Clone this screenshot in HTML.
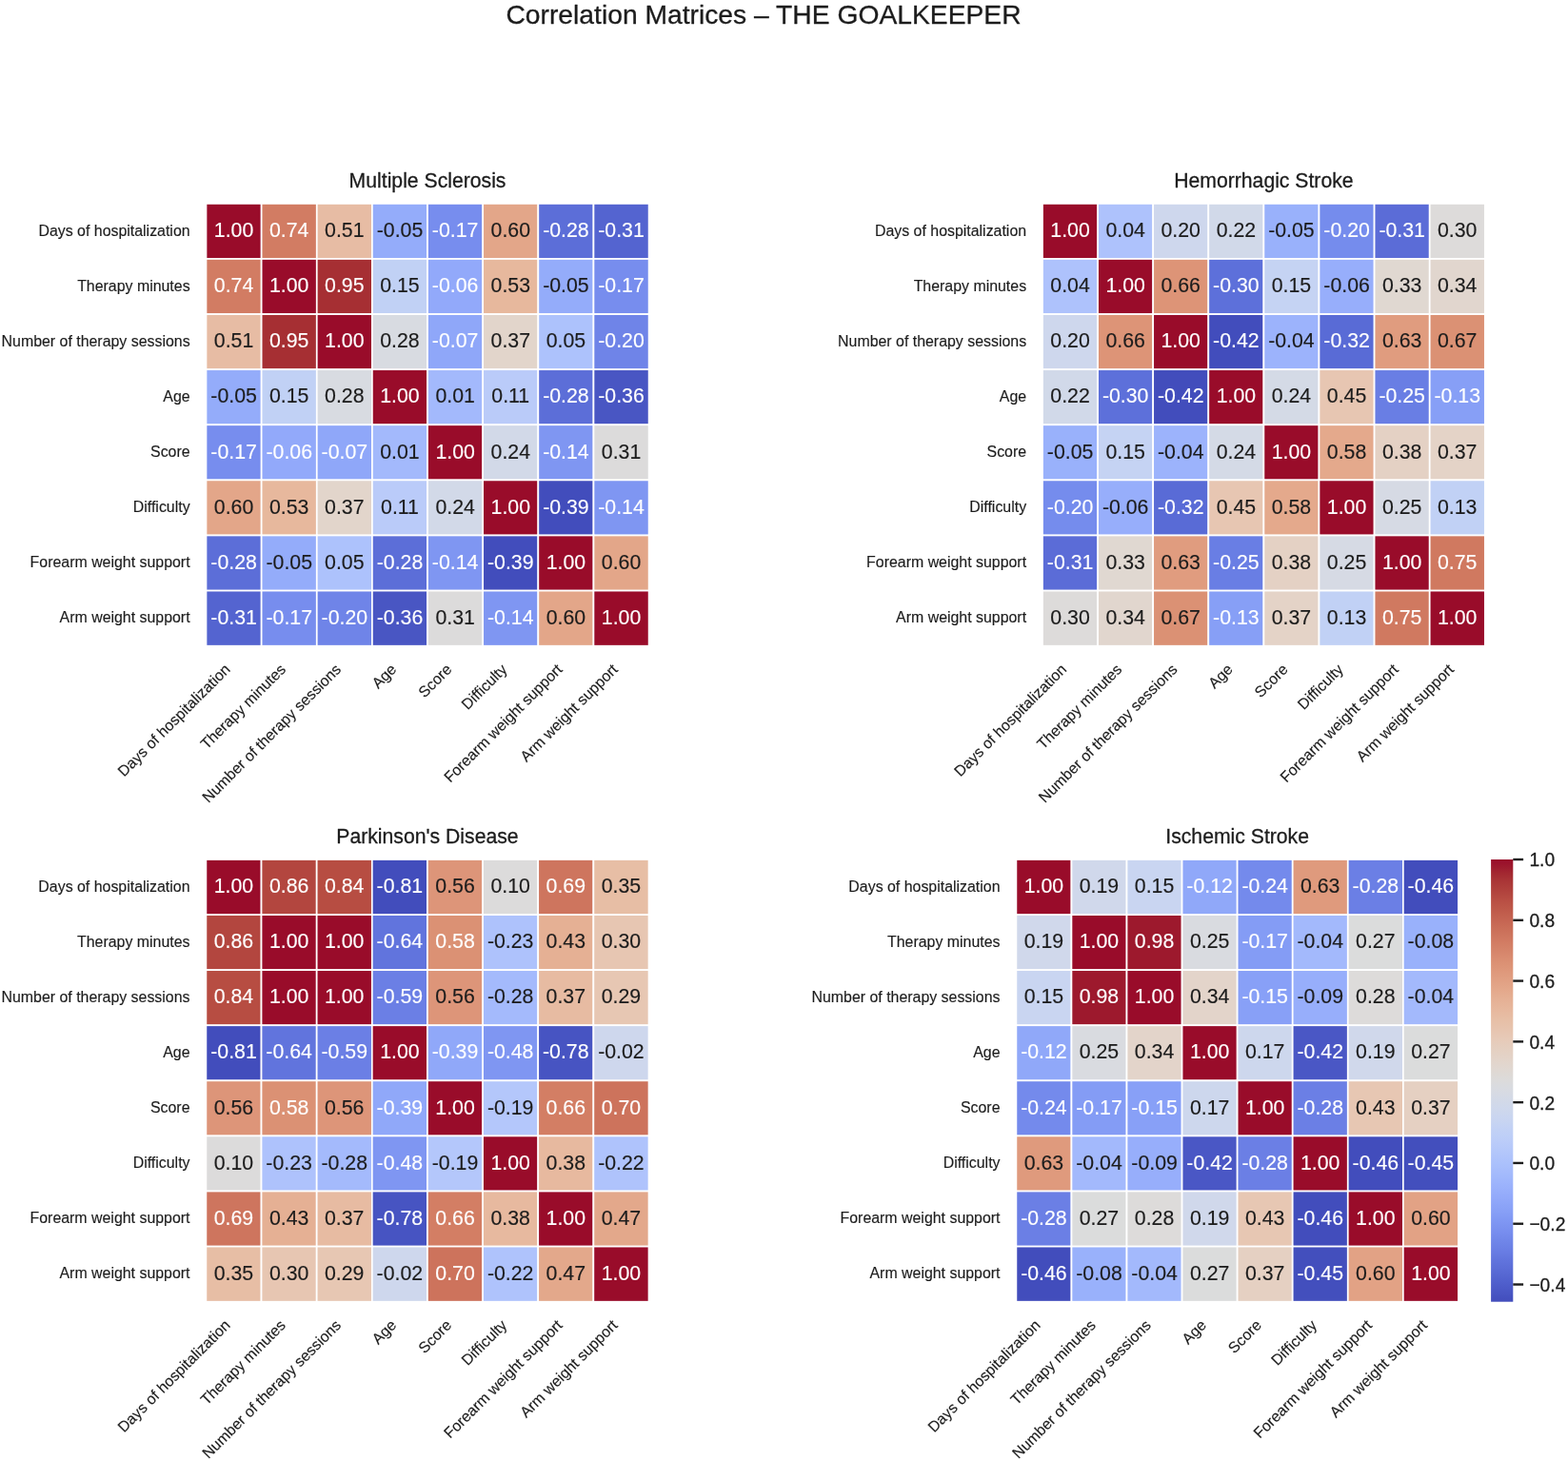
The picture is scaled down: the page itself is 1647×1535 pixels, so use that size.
<!DOCTYPE html>
<html lang="en"><head><meta charset="utf-8"><title>Correlation Matrices – THE GOALKEEPER</title>
<style>html,body{margin:0;padding:0;background:#fff}body{width:1647px;height:1535px;overflow:hidden}svg{display:block}text{font-family:"Liberation Sans",sans-serif;stroke-width:0.30px;stroke-linejoin:round}.w{stroke:#fff;stroke-width:0.12px}.an.d,.tk{stroke-width:0.15px}.d,.tk,.ti,.su,.cbt{stroke:#1c1c1c}.an{font-size:21.30px;text-anchor:middle}.tk{font-size:15.92px;fill:#1c1c1c}.yt{text-anchor:end}.xt{text-anchor:end}.ti{font-size:21.20px;text-anchor:middle;fill:#1c1c1c}.su{font-size:28.25px;text-anchor:middle;fill:#1c1c1c}.w{fill:#fff}.d{fill:#1c1c1c}</style>
</head><body>
<svg width="1647" height="1535" viewBox="0 0 1647 1535">
<rect width="1647" height="1535" fill="#fff"/>
<text class="su" x="802.00" y="24.60">Correlation Matrices – THE GOALKEEPER</text>
<g>
<text class="ti" x="449.05" y="196.70">Multiple Sclerosis</text>
<g stroke="#fff" stroke-width="1.70">
<rect x="216.50" y="213.90" width="58.14" height="58.10" fill="#990c2a"/>
<rect x="274.64" y="213.90" width="58.14" height="58.10" fill="#d27c63"/>
<rect x="332.77" y="213.90" width="58.14" height="58.10" fill="#e7bca4"/>
<rect x="390.91" y="213.90" width="58.14" height="58.10" fill="#94acfa"/>
<rect x="449.05" y="213.90" width="58.14" height="58.10" fill="#778dee"/>
<rect x="507.19" y="213.90" width="58.14" height="58.10" fill="#e3a689"/>
<rect x="565.33" y="213.90" width="58.14" height="58.10" fill="#5c6ed8"/>
<rect x="623.46" y="213.90" width="58.14" height="58.10" fill="#5464d0"/>
<rect x="216.50" y="272.00" width="58.14" height="58.10" fill="#d27c63"/>
<rect x="274.64" y="272.00" width="58.14" height="58.10" fill="#990c2a"/>
<rect x="332.77" y="272.00" width="58.14" height="58.10" fill="#a62f33"/>
<rect x="390.91" y="272.00" width="58.14" height="58.10" fill="#c1d1f5"/>
<rect x="449.05" y="272.00" width="58.14" height="58.10" fill="#92a9fa"/>
<rect x="507.19" y="272.00" width="58.14" height="58.10" fill="#e7b89d"/>
<rect x="565.33" y="272.00" width="58.14" height="58.10" fill="#94acfa"/>
<rect x="623.46" y="272.00" width="58.14" height="58.10" fill="#778dee"/>
<rect x="216.50" y="330.10" width="58.14" height="58.10" fill="#e7bca4"/>
<rect x="274.64" y="330.10" width="58.14" height="58.10" fill="#a62f33"/>
<rect x="332.77" y="330.10" width="58.14" height="58.10" fill="#990c2a"/>
<rect x="390.91" y="330.10" width="58.14" height="58.10" fill="#d8dbe1"/>
<rect x="449.05" y="330.10" width="58.14" height="58.10" fill="#8fa7f9"/>
<rect x="507.19" y="330.10" width="58.14" height="58.10" fill="#e2d5cb"/>
<rect x="565.33" y="330.10" width="58.14" height="58.10" fill="#adc2fc"/>
<rect x="623.46" y="330.10" width="58.14" height="58.10" fill="#6f84e8"/>
<rect x="216.50" y="388.20" width="58.14" height="58.10" fill="#94acfa"/>
<rect x="274.64" y="388.20" width="58.14" height="58.10" fill="#c1d1f5"/>
<rect x="332.77" y="388.20" width="58.14" height="58.10" fill="#d8dbe1"/>
<rect x="390.91" y="388.20" width="58.14" height="58.10" fill="#990c2a"/>
<rect x="449.05" y="388.20" width="58.14" height="58.10" fill="#a3b9fc"/>
<rect x="507.19" y="388.20" width="58.14" height="58.10" fill="#bacbf9"/>
<rect x="565.33" y="388.20" width="58.14" height="58.10" fill="#5c6ed8"/>
<rect x="623.46" y="388.20" width="58.14" height="58.10" fill="#4956c3"/>
<rect x="216.50" y="446.30" width="58.14" height="58.10" fill="#778dee"/>
<rect x="274.64" y="446.30" width="58.14" height="58.10" fill="#92a9fa"/>
<rect x="332.77" y="446.30" width="58.14" height="58.10" fill="#8fa7f9"/>
<rect x="390.91" y="446.30" width="58.14" height="58.10" fill="#a3b9fc"/>
<rect x="449.05" y="446.30" width="58.14" height="58.10" fill="#990c2a"/>
<rect x="507.19" y="446.30" width="58.14" height="58.10" fill="#d2d9e8"/>
<rect x="565.33" y="446.30" width="58.14" height="58.10" fill="#7f96f2"/>
<rect x="623.46" y="446.30" width="58.14" height="58.10" fill="#dcdbdb"/>
<rect x="216.50" y="504.40" width="58.14" height="58.10" fill="#e3a689"/>
<rect x="274.64" y="504.40" width="58.14" height="58.10" fill="#e7b89d"/>
<rect x="332.77" y="504.40" width="58.14" height="58.10" fill="#e2d5cb"/>
<rect x="390.91" y="504.40" width="58.14" height="58.10" fill="#bacbf9"/>
<rect x="449.05" y="504.40" width="58.14" height="58.10" fill="#d2d9e8"/>
<rect x="507.19" y="504.40" width="58.14" height="58.10" fill="#990c2a"/>
<rect x="565.33" y="504.40" width="58.14" height="58.10" fill="#424dbc"/>
<rect x="623.46" y="504.40" width="58.14" height="58.10" fill="#7f96f2"/>
<rect x="216.50" y="562.50" width="58.14" height="58.10" fill="#5c6ed8"/>
<rect x="274.64" y="562.50" width="58.14" height="58.10" fill="#94acfa"/>
<rect x="332.77" y="562.50" width="58.14" height="58.10" fill="#adc2fc"/>
<rect x="390.91" y="562.50" width="58.14" height="58.10" fill="#5c6ed8"/>
<rect x="449.05" y="562.50" width="58.14" height="58.10" fill="#7f96f2"/>
<rect x="507.19" y="562.50" width="58.14" height="58.10" fill="#424dbc"/>
<rect x="565.33" y="562.50" width="58.14" height="58.10" fill="#990c2a"/>
<rect x="623.46" y="562.50" width="58.14" height="58.10" fill="#e3a689"/>
<rect x="216.50" y="620.60" width="58.14" height="58.10" fill="#5464d0"/>
<rect x="274.64" y="620.60" width="58.14" height="58.10" fill="#778dee"/>
<rect x="332.77" y="620.60" width="58.14" height="58.10" fill="#6f84e8"/>
<rect x="390.91" y="620.60" width="58.14" height="58.10" fill="#4956c3"/>
<rect x="449.05" y="620.60" width="58.14" height="58.10" fill="#dcdbdb"/>
<rect x="507.19" y="620.60" width="58.14" height="58.10" fill="#7f96f2"/>
<rect x="565.33" y="620.60" width="58.14" height="58.10" fill="#e3a689"/>
<rect x="623.46" y="620.60" width="58.14" height="58.10" fill="#990c2a"/>
</g>
<text class="an w" transform="translate(245.57 249.10) scale(1.000 1.040)">1.00</text>
<text class="an w" transform="translate(303.71 249.10) scale(1.000 1.040)">0.74</text>
<text class="an d" transform="translate(361.84 249.10) scale(1.000 1.040)">0.51</text>
<text class="an d" transform="translate(419.98 249.10) scale(1.000 1.040)">-0.05</text>
<text class="an w" transform="translate(478.12 249.10) scale(1.000 1.040)">-0.17</text>
<text class="an d" transform="translate(536.26 249.10) scale(1.000 1.040)">0.60</text>
<text class="an w" transform="translate(594.39 249.10) scale(1.000 1.040)">-0.28</text>
<text class="an w" transform="translate(652.53 249.10) scale(1.000 1.040)">-0.31</text>
<text class="an w" transform="translate(245.57 307.20) scale(1.000 1.040)">0.74</text>
<text class="an w" transform="translate(303.71 307.20) scale(1.000 1.040)">1.00</text>
<text class="an w" transform="translate(361.84 307.20) scale(1.000 1.040)">0.95</text>
<text class="an d" transform="translate(419.98 307.20) scale(1.000 1.040)">0.15</text>
<text class="an w" transform="translate(478.12 307.20) scale(1.000 1.040)">-0.06</text>
<text class="an d" transform="translate(536.26 307.20) scale(1.000 1.040)">0.53</text>
<text class="an d" transform="translate(594.39 307.20) scale(1.000 1.040)">-0.05</text>
<text class="an w" transform="translate(652.53 307.20) scale(1.000 1.040)">-0.17</text>
<text class="an d" transform="translate(245.57 365.30) scale(1.000 1.040)">0.51</text>
<text class="an w" transform="translate(303.71 365.30) scale(1.000 1.040)">0.95</text>
<text class="an w" transform="translate(361.84 365.30) scale(1.000 1.040)">1.00</text>
<text class="an d" transform="translate(419.98 365.30) scale(1.000 1.040)">0.28</text>
<text class="an w" transform="translate(478.12 365.30) scale(1.000 1.040)">-0.07</text>
<text class="an d" transform="translate(536.26 365.30) scale(1.000 1.040)">0.37</text>
<text class="an d" transform="translate(594.39 365.30) scale(1.000 1.040)">0.05</text>
<text class="an w" transform="translate(652.53 365.30) scale(1.000 1.040)">-0.20</text>
<text class="an d" transform="translate(245.57 423.40) scale(1.000 1.040)">-0.05</text>
<text class="an d" transform="translate(303.71 423.40) scale(1.000 1.040)">0.15</text>
<text class="an d" transform="translate(361.84 423.40) scale(1.000 1.040)">0.28</text>
<text class="an w" transform="translate(419.98 423.40) scale(1.000 1.040)">1.00</text>
<text class="an d" transform="translate(478.12 423.40) scale(1.000 1.040)">0.01</text>
<text class="an d" transform="translate(536.26 423.40) scale(1.000 1.040)">0.11</text>
<text class="an w" transform="translate(594.39 423.40) scale(1.000 1.040)">-0.28</text>
<text class="an w" transform="translate(652.53 423.40) scale(1.000 1.040)">-0.36</text>
<text class="an w" transform="translate(245.57 481.50) scale(1.000 1.040)">-0.17</text>
<text class="an w" transform="translate(303.71 481.50) scale(1.000 1.040)">-0.06</text>
<text class="an w" transform="translate(361.84 481.50) scale(1.000 1.040)">-0.07</text>
<text class="an d" transform="translate(419.98 481.50) scale(1.000 1.040)">0.01</text>
<text class="an w" transform="translate(478.12 481.50) scale(1.000 1.040)">1.00</text>
<text class="an d" transform="translate(536.26 481.50) scale(1.000 1.040)">0.24</text>
<text class="an w" transform="translate(594.39 481.50) scale(1.000 1.040)">-0.14</text>
<text class="an d" transform="translate(652.53 481.50) scale(1.000 1.040)">0.31</text>
<text class="an d" transform="translate(245.57 539.60) scale(1.000 1.040)">0.60</text>
<text class="an d" transform="translate(303.71 539.60) scale(1.000 1.040)">0.53</text>
<text class="an d" transform="translate(361.84 539.60) scale(1.000 1.040)">0.37</text>
<text class="an d" transform="translate(419.98 539.60) scale(1.000 1.040)">0.11</text>
<text class="an d" transform="translate(478.12 539.60) scale(1.000 1.040)">0.24</text>
<text class="an w" transform="translate(536.26 539.60) scale(1.000 1.040)">1.00</text>
<text class="an w" transform="translate(594.39 539.60) scale(1.000 1.040)">-0.39</text>
<text class="an w" transform="translate(652.53 539.60) scale(1.000 1.040)">-0.14</text>
<text class="an w" transform="translate(245.57 597.70) scale(1.000 1.040)">-0.28</text>
<text class="an d" transform="translate(303.71 597.70) scale(1.000 1.040)">-0.05</text>
<text class="an d" transform="translate(361.84 597.70) scale(1.000 1.040)">0.05</text>
<text class="an w" transform="translate(419.98 597.70) scale(1.000 1.040)">-0.28</text>
<text class="an w" transform="translate(478.12 597.70) scale(1.000 1.040)">-0.14</text>
<text class="an w" transform="translate(536.26 597.70) scale(1.000 1.040)">-0.39</text>
<text class="an w" transform="translate(594.39 597.70) scale(1.000 1.040)">1.00</text>
<text class="an d" transform="translate(652.53 597.70) scale(1.000 1.040)">0.60</text>
<text class="an w" transform="translate(245.57 655.80) scale(1.000 1.040)">-0.31</text>
<text class="an w" transform="translate(303.71 655.80) scale(1.000 1.040)">-0.17</text>
<text class="an w" transform="translate(361.84 655.80) scale(1.000 1.040)">-0.20</text>
<text class="an w" transform="translate(419.98 655.80) scale(1.000 1.040)">-0.36</text>
<text class="an d" transform="translate(478.12 655.80) scale(1.000 1.040)">0.31</text>
<text class="an w" transform="translate(536.26 655.80) scale(1.000 1.040)">-0.14</text>
<text class="an d" transform="translate(594.39 655.80) scale(1.000 1.040)">0.60</text>
<text class="an w" transform="translate(652.53 655.80) scale(1.000 1.040)">1.00</text>
<text class="tk yt" x="199.60" y="247.55">Days of hospitalization</text>
<text class="tk yt" x="199.60" y="305.65">Therapy minutes</text>
<text class="tk yt" x="199.60" y="363.75">Number of therapy sessions</text>
<text class="tk yt" x="199.60" y="421.85">Age</text>
<text class="tk yt" x="199.60" y="479.95">Score</text>
<text class="tk yt" x="199.60" y="538.05">Difficulty</text>
<text class="tk yt" x="199.60" y="596.15">Forearm weight support</text>
<text class="tk yt" x="199.60" y="654.25">Arm weight support</text>
<text class="tk xt" transform="translate(242.87 704.30) rotate(-45)">Days of hospitalization</text>
<text class="tk xt" transform="translate(301.01 704.30) rotate(-45)">Therapy minutes</text>
<text class="tk xt" transform="translate(359.14 704.30) rotate(-45)">Number of therapy sessions</text>
<text class="tk xt" transform="translate(417.28 704.30) rotate(-45)">Age</text>
<text class="tk xt" transform="translate(475.42 704.30) rotate(-45)">Score</text>
<text class="tk xt" transform="translate(533.56 704.30) rotate(-45)">Difficulty</text>
<text class="tk xt" transform="translate(591.69 704.30) rotate(-45)">Forearm weight support</text>
<text class="tk xt" transform="translate(649.83 704.30) rotate(-45)">Arm weight support</text>
</g>
<g>
<text class="ti" x="1327.40" y="196.70">Hemorrhagic Stroke</text>
<g stroke="#fff" stroke-width="1.70">
<rect x="1095.00" y="213.90" width="58.10" height="58.10" fill="#990c2a"/>
<rect x="1153.10" y="213.90" width="58.10" height="58.10" fill="#aec2fc"/>
<rect x="1211.20" y="213.90" width="58.10" height="58.10" fill="#ced7ed"/>
<rect x="1269.30" y="213.90" width="58.10" height="58.10" fill="#d1d9e9"/>
<rect x="1327.40" y="213.90" width="58.10" height="58.10" fill="#99b1fb"/>
<rect x="1385.50" y="213.90" width="58.10" height="58.10" fill="#758ced"/>
<rect x="1443.60" y="213.90" width="58.10" height="58.10" fill="#5b6cd7"/>
<rect x="1501.70" y="213.90" width="58.10" height="58.10" fill="#dddbda"/>
<rect x="1095.00" y="272.00" width="58.10" height="58.10" fill="#aec2fc"/>
<rect x="1153.10" y="272.00" width="58.10" height="58.10" fill="#990c2a"/>
<rect x="1211.20" y="272.00" width="58.10" height="58.10" fill="#dd9477"/>
<rect x="1269.30" y="272.00" width="58.10" height="58.10" fill="#5d70da"/>
<rect x="1327.40" y="272.00" width="58.10" height="58.10" fill="#c5d3f3"/>
<rect x="1385.50" y="272.00" width="58.10" height="58.10" fill="#97aefb"/>
<rect x="1443.60" y="272.00" width="58.10" height="58.10" fill="#e0d8d1"/>
<rect x="1501.70" y="272.00" width="58.10" height="58.10" fill="#e1d6ce"/>
<rect x="1095.00" y="330.10" width="58.10" height="58.10" fill="#ced7ed"/>
<rect x="1153.10" y="330.10" width="58.10" height="58.10" fill="#dd9477"/>
<rect x="1211.20" y="330.10" width="58.10" height="58.10" fill="#990c2a"/>
<rect x="1269.30" y="330.10" width="58.10" height="58.10" fill="#424dbc"/>
<rect x="1327.40" y="330.10" width="58.10" height="58.10" fill="#9cb3fc"/>
<rect x="1385.50" y="330.10" width="58.10" height="58.10" fill="#596bd6"/>
<rect x="1443.60" y="330.10" width="58.10" height="58.10" fill="#e09c7f"/>
<rect x="1501.70" y="330.10" width="58.10" height="58.10" fill="#db9174"/>
<rect x="1095.00" y="388.20" width="58.10" height="58.10" fill="#d1d9e9"/>
<rect x="1153.10" y="388.20" width="58.10" height="58.10" fill="#5d70da"/>
<rect x="1211.20" y="388.20" width="58.10" height="58.10" fill="#424dbc"/>
<rect x="1269.30" y="388.20" width="58.10" height="58.10" fill="#990c2a"/>
<rect x="1327.40" y="388.20" width="58.10" height="58.10" fill="#d4dae6"/>
<rect x="1385.50" y="388.20" width="58.10" height="58.10" fill="#e7c6b2"/>
<rect x="1443.60" y="388.20" width="58.10" height="58.10" fill="#697ee4"/>
<rect x="1501.70" y="388.20" width="58.10" height="58.10" fill="#879ff6"/>
<rect x="1095.00" y="446.30" width="58.10" height="58.10" fill="#99b1fb"/>
<rect x="1153.10" y="446.30" width="58.10" height="58.10" fill="#c5d3f3"/>
<rect x="1211.20" y="446.30" width="58.10" height="58.10" fill="#9cb3fc"/>
<rect x="1269.30" y="446.30" width="58.10" height="58.10" fill="#d4dae6"/>
<rect x="1327.40" y="446.30" width="58.10" height="58.10" fill="#990c2a"/>
<rect x="1385.50" y="446.30" width="58.10" height="58.10" fill="#e4a98c"/>
<rect x="1443.60" y="446.30" width="58.10" height="58.10" fill="#e4d1c4"/>
<rect x="1501.70" y="446.30" width="58.10" height="58.10" fill="#e4d3c7"/>
<rect x="1095.00" y="504.40" width="58.10" height="58.10" fill="#758ced"/>
<rect x="1153.10" y="504.40" width="58.10" height="58.10" fill="#97aefb"/>
<rect x="1211.20" y="504.40" width="58.10" height="58.10" fill="#596bd6"/>
<rect x="1269.30" y="504.40" width="58.10" height="58.10" fill="#e7c6b2"/>
<rect x="1327.40" y="504.40" width="58.10" height="58.10" fill="#e4a98c"/>
<rect x="1385.50" y="504.40" width="58.10" height="58.10" fill="#990c2a"/>
<rect x="1443.60" y="504.40" width="58.10" height="58.10" fill="#d6dae4"/>
<rect x="1501.70" y="504.40" width="58.10" height="58.10" fill="#c1d1f5"/>
<rect x="1095.00" y="562.50" width="58.10" height="58.10" fill="#5b6cd7"/>
<rect x="1153.10" y="562.50" width="58.10" height="58.10" fill="#e0d8d1"/>
<rect x="1211.20" y="562.50" width="58.10" height="58.10" fill="#e09c7f"/>
<rect x="1269.30" y="562.50" width="58.10" height="58.10" fill="#697ee4"/>
<rect x="1327.40" y="562.50" width="58.10" height="58.10" fill="#e4d1c4"/>
<rect x="1385.50" y="562.50" width="58.10" height="58.10" fill="#d6dae4"/>
<rect x="1443.60" y="562.50" width="58.10" height="58.10" fill="#990c2a"/>
<rect x="1501.70" y="562.50" width="58.10" height="58.10" fill="#d07960"/>
<rect x="1095.00" y="620.60" width="58.10" height="58.10" fill="#dddbda"/>
<rect x="1153.10" y="620.60" width="58.10" height="58.10" fill="#e1d6ce"/>
<rect x="1211.20" y="620.60" width="58.10" height="58.10" fill="#db9174"/>
<rect x="1269.30" y="620.60" width="58.10" height="58.10" fill="#879ff6"/>
<rect x="1327.40" y="620.60" width="58.10" height="58.10" fill="#e4d3c7"/>
<rect x="1385.50" y="620.60" width="58.10" height="58.10" fill="#c1d1f5"/>
<rect x="1443.60" y="620.60" width="58.10" height="58.10" fill="#d07960"/>
<rect x="1501.70" y="620.60" width="58.10" height="58.10" fill="#990c2a"/>
</g>
<text class="an w" transform="translate(1124.05 249.10) scale(1.000 1.040)">1.00</text>
<text class="an d" transform="translate(1182.15 249.10) scale(1.000 1.040)">0.04</text>
<text class="an d" transform="translate(1240.25 249.10) scale(1.000 1.040)">0.20</text>
<text class="an d" transform="translate(1298.35 249.10) scale(1.000 1.040)">0.22</text>
<text class="an d" transform="translate(1356.45 249.10) scale(1.000 1.040)">-0.05</text>
<text class="an w" transform="translate(1414.55 249.10) scale(1.000 1.040)">-0.20</text>
<text class="an w" transform="translate(1472.65 249.10) scale(1.000 1.040)">-0.31</text>
<text class="an d" transform="translate(1530.75 249.10) scale(1.000 1.040)">0.30</text>
<text class="an d" transform="translate(1124.05 307.20) scale(1.000 1.040)">0.04</text>
<text class="an w" transform="translate(1182.15 307.20) scale(1.000 1.040)">1.00</text>
<text class="an d" transform="translate(1240.25 307.20) scale(1.000 1.040)">0.66</text>
<text class="an w" transform="translate(1298.35 307.20) scale(1.000 1.040)">-0.30</text>
<text class="an d" transform="translate(1356.45 307.20) scale(1.000 1.040)">0.15</text>
<text class="an d" transform="translate(1414.55 307.20) scale(1.000 1.040)">-0.06</text>
<text class="an d" transform="translate(1472.65 307.20) scale(1.000 1.040)">0.33</text>
<text class="an d" transform="translate(1530.75 307.20) scale(1.000 1.040)">0.34</text>
<text class="an d" transform="translate(1124.05 365.30) scale(1.000 1.040)">0.20</text>
<text class="an d" transform="translate(1182.15 365.30) scale(1.000 1.040)">0.66</text>
<text class="an w" transform="translate(1240.25 365.30) scale(1.000 1.040)">1.00</text>
<text class="an w" transform="translate(1298.35 365.30) scale(1.000 1.040)">-0.42</text>
<text class="an d" transform="translate(1356.45 365.30) scale(1.000 1.040)">-0.04</text>
<text class="an w" transform="translate(1414.55 365.30) scale(1.000 1.040)">-0.32</text>
<text class="an d" transform="translate(1472.65 365.30) scale(1.000 1.040)">0.63</text>
<text class="an d" transform="translate(1530.75 365.30) scale(1.000 1.040)">0.67</text>
<text class="an d" transform="translate(1124.05 423.40) scale(1.000 1.040)">0.22</text>
<text class="an w" transform="translate(1182.15 423.40) scale(1.000 1.040)">-0.30</text>
<text class="an w" transform="translate(1240.25 423.40) scale(1.000 1.040)">-0.42</text>
<text class="an w" transform="translate(1298.35 423.40) scale(1.000 1.040)">1.00</text>
<text class="an d" transform="translate(1356.45 423.40) scale(1.000 1.040)">0.24</text>
<text class="an d" transform="translate(1414.55 423.40) scale(1.000 1.040)">0.45</text>
<text class="an w" transform="translate(1472.65 423.40) scale(1.000 1.040)">-0.25</text>
<text class="an w" transform="translate(1530.75 423.40) scale(1.000 1.040)">-0.13</text>
<text class="an d" transform="translate(1124.05 481.50) scale(1.000 1.040)">-0.05</text>
<text class="an d" transform="translate(1182.15 481.50) scale(1.000 1.040)">0.15</text>
<text class="an d" transform="translate(1240.25 481.50) scale(1.000 1.040)">-0.04</text>
<text class="an d" transform="translate(1298.35 481.50) scale(1.000 1.040)">0.24</text>
<text class="an w" transform="translate(1356.45 481.50) scale(1.000 1.040)">1.00</text>
<text class="an d" transform="translate(1414.55 481.50) scale(1.000 1.040)">0.58</text>
<text class="an d" transform="translate(1472.65 481.50) scale(1.000 1.040)">0.38</text>
<text class="an d" transform="translate(1530.75 481.50) scale(1.000 1.040)">0.37</text>
<text class="an w" transform="translate(1124.05 539.60) scale(1.000 1.040)">-0.20</text>
<text class="an d" transform="translate(1182.15 539.60) scale(1.000 1.040)">-0.06</text>
<text class="an w" transform="translate(1240.25 539.60) scale(1.000 1.040)">-0.32</text>
<text class="an d" transform="translate(1298.35 539.60) scale(1.000 1.040)">0.45</text>
<text class="an d" transform="translate(1356.45 539.60) scale(1.000 1.040)">0.58</text>
<text class="an w" transform="translate(1414.55 539.60) scale(1.000 1.040)">1.00</text>
<text class="an d" transform="translate(1472.65 539.60) scale(1.000 1.040)">0.25</text>
<text class="an d" transform="translate(1530.75 539.60) scale(1.000 1.040)">0.13</text>
<text class="an w" transform="translate(1124.05 597.70) scale(1.000 1.040)">-0.31</text>
<text class="an d" transform="translate(1182.15 597.70) scale(1.000 1.040)">0.33</text>
<text class="an d" transform="translate(1240.25 597.70) scale(1.000 1.040)">0.63</text>
<text class="an w" transform="translate(1298.35 597.70) scale(1.000 1.040)">-0.25</text>
<text class="an d" transform="translate(1356.45 597.70) scale(1.000 1.040)">0.38</text>
<text class="an d" transform="translate(1414.55 597.70) scale(1.000 1.040)">0.25</text>
<text class="an w" transform="translate(1472.65 597.70) scale(1.000 1.040)">1.00</text>
<text class="an w" transform="translate(1530.75 597.70) scale(1.000 1.040)">0.75</text>
<text class="an d" transform="translate(1124.05 655.80) scale(1.000 1.040)">0.30</text>
<text class="an d" transform="translate(1182.15 655.80) scale(1.000 1.040)">0.34</text>
<text class="an d" transform="translate(1240.25 655.80) scale(1.000 1.040)">0.67</text>
<text class="an w" transform="translate(1298.35 655.80) scale(1.000 1.040)">-0.13</text>
<text class="an d" transform="translate(1356.45 655.80) scale(1.000 1.040)">0.37</text>
<text class="an d" transform="translate(1414.55 655.80) scale(1.000 1.040)">0.13</text>
<text class="an w" transform="translate(1472.65 655.80) scale(1.000 1.040)">0.75</text>
<text class="an w" transform="translate(1530.75 655.80) scale(1.000 1.040)">1.00</text>
<text class="tk yt" x="1078.10" y="247.55">Days of hospitalization</text>
<text class="tk yt" x="1078.10" y="305.65">Therapy minutes</text>
<text class="tk yt" x="1078.10" y="363.75">Number of therapy sessions</text>
<text class="tk yt" x="1078.10" y="421.85">Age</text>
<text class="tk yt" x="1078.10" y="479.95">Score</text>
<text class="tk yt" x="1078.10" y="538.05">Difficulty</text>
<text class="tk yt" x="1078.10" y="596.15">Forearm weight support</text>
<text class="tk yt" x="1078.10" y="654.25">Arm weight support</text>
<text class="tk xt" transform="translate(1121.35 704.30) rotate(-45)">Days of hospitalization</text>
<text class="tk xt" transform="translate(1179.45 704.30) rotate(-45)">Therapy minutes</text>
<text class="tk xt" transform="translate(1237.55 704.30) rotate(-45)">Number of therapy sessions</text>
<text class="tk xt" transform="translate(1295.65 704.30) rotate(-45)">Age</text>
<text class="tk xt" transform="translate(1353.75 704.30) rotate(-45)">Score</text>
<text class="tk xt" transform="translate(1411.85 704.30) rotate(-45)">Difficulty</text>
<text class="tk xt" transform="translate(1469.95 704.30) rotate(-45)">Forearm weight support</text>
<text class="tk xt" transform="translate(1528.05 704.30) rotate(-45)">Arm weight support</text>
</g>
<g>
<text class="ti" x="448.95" y="885.80">Parkinson's Disease</text>
<g stroke="#fff" stroke-width="1.70">
<rect x="216.40" y="903.00" width="58.14" height="58.09" fill="#990c2a"/>
<rect x="274.54" y="903.00" width="58.14" height="58.09" fill="#b3463f"/>
<rect x="332.68" y="903.00" width="58.14" height="58.09" fill="#b74d42"/>
<rect x="390.81" y="903.00" width="58.14" height="58.09" fill="#424dbc"/>
<rect x="448.95" y="903.00" width="58.14" height="58.09" fill="#dd9579"/>
<rect x="507.09" y="903.00" width="58.14" height="58.09" fill="#dcdbdb"/>
<rect x="565.23" y="903.00" width="58.14" height="58.09" fill="#ce755e"/>
<rect x="623.36" y="903.00" width="58.14" height="58.09" fill="#e7bea5"/>
<rect x="216.40" y="961.09" width="58.14" height="58.09" fill="#b3463f"/>
<rect x="274.54" y="961.09" width="58.14" height="58.09" fill="#990c2a"/>
<rect x="332.68" y="961.09" width="58.14" height="58.09" fill="#990c2a"/>
<rect x="390.81" y="961.09" width="58.14" height="58.09" fill="#6174dd"/>
<rect x="448.95" y="961.09" width="58.14" height="58.09" fill="#db9174"/>
<rect x="507.09" y="961.09" width="58.14" height="58.09" fill="#aec2fc"/>
<rect x="565.23" y="961.09" width="58.14" height="58.09" fill="#e5b094"/>
<rect x="623.36" y="961.09" width="58.14" height="58.09" fill="#e7c6b2"/>
<rect x="216.40" y="1019.17" width="58.14" height="58.09" fill="#b74d42"/>
<rect x="274.54" y="1019.17" width="58.14" height="58.09" fill="#990c2a"/>
<rect x="332.68" y="1019.17" width="58.14" height="58.09" fill="#990c2a"/>
<rect x="390.81" y="1019.17" width="58.14" height="58.09" fill="#6b7fe5"/>
<rect x="448.95" y="1019.17" width="58.14" height="58.09" fill="#dd9579"/>
<rect x="507.09" y="1019.17" width="58.14" height="58.09" fill="#a4bafc"/>
<rect x="565.23" y="1019.17" width="58.14" height="58.09" fill="#e7bba2"/>
<rect x="623.36" y="1019.17" width="58.14" height="58.09" fill="#e7c7b3"/>
<rect x="216.40" y="1077.26" width="58.14" height="58.09" fill="#424dbc"/>
<rect x="274.54" y="1077.26" width="58.14" height="58.09" fill="#6174dd"/>
<rect x="332.68" y="1077.26" width="58.14" height="58.09" fill="#6b7fe5"/>
<rect x="390.81" y="1077.26" width="58.14" height="58.09" fill="#990c2a"/>
<rect x="448.95" y="1077.26" width="58.14" height="58.09" fill="#90a8f9"/>
<rect x="507.09" y="1077.26" width="58.14" height="58.09" fill="#7f96f2"/>
<rect x="565.23" y="1077.26" width="58.14" height="58.09" fill="#4754c2"/>
<rect x="623.36" y="1077.26" width="58.14" height="58.09" fill="#ced7ed"/>
<rect x="216.40" y="1135.35" width="58.14" height="58.09" fill="#dd9579"/>
<rect x="274.54" y="1135.35" width="58.14" height="58.09" fill="#db9174"/>
<rect x="332.68" y="1135.35" width="58.14" height="58.09" fill="#dd9579"/>
<rect x="390.81" y="1135.35" width="58.14" height="58.09" fill="#90a8f9"/>
<rect x="448.95" y="1135.35" width="58.14" height="58.09" fill="#990c2a"/>
<rect x="507.09" y="1135.35" width="58.14" height="58.09" fill="#b4c7fb"/>
<rect x="565.23" y="1135.35" width="58.14" height="58.09" fill="#d37e64"/>
<rect x="623.36" y="1135.35" width="58.14" height="58.09" fill="#cd735c"/>
<rect x="216.40" y="1193.44" width="58.14" height="58.09" fill="#dcdbdb"/>
<rect x="274.54" y="1193.44" width="58.14" height="58.09" fill="#aec2fc"/>
<rect x="332.68" y="1193.44" width="58.14" height="58.09" fill="#a4bafc"/>
<rect x="390.81" y="1193.44" width="58.14" height="58.09" fill="#7f96f2"/>
<rect x="448.95" y="1193.44" width="58.14" height="58.09" fill="#b4c7fb"/>
<rect x="507.09" y="1193.44" width="58.14" height="58.09" fill="#990c2a"/>
<rect x="565.23" y="1193.44" width="58.14" height="58.09" fill="#e7b99f"/>
<rect x="623.36" y="1193.44" width="58.14" height="58.09" fill="#afc3fc"/>
<rect x="216.40" y="1251.53" width="58.14" height="58.09" fill="#ce755e"/>
<rect x="274.54" y="1251.53" width="58.14" height="58.09" fill="#e5b094"/>
<rect x="332.68" y="1251.53" width="58.14" height="58.09" fill="#e7bba2"/>
<rect x="390.81" y="1251.53" width="58.14" height="58.09" fill="#4754c2"/>
<rect x="448.95" y="1251.53" width="58.14" height="58.09" fill="#d37e64"/>
<rect x="507.09" y="1251.53" width="58.14" height="58.09" fill="#e7b99f"/>
<rect x="565.23" y="1251.53" width="58.14" height="58.09" fill="#990c2a"/>
<rect x="623.36" y="1251.53" width="58.14" height="58.09" fill="#e3a88b"/>
<rect x="216.40" y="1309.61" width="58.14" height="58.09" fill="#e7bea5"/>
<rect x="274.54" y="1309.61" width="58.14" height="58.09" fill="#e7c6b2"/>
<rect x="332.68" y="1309.61" width="58.14" height="58.09" fill="#e7c7b3"/>
<rect x="390.81" y="1309.61" width="58.14" height="58.09" fill="#ced7ed"/>
<rect x="448.95" y="1309.61" width="58.14" height="58.09" fill="#cd735c"/>
<rect x="507.09" y="1309.61" width="58.14" height="58.09" fill="#afc3fc"/>
<rect x="565.23" y="1309.61" width="58.14" height="58.09" fill="#e3a88b"/>
<rect x="623.36" y="1309.61" width="58.14" height="58.09" fill="#990c2a"/>
</g>
<text class="an w" transform="translate(245.47 938.19) scale(1.000 1.040)">1.00</text>
<text class="an w" transform="translate(303.61 938.19) scale(1.000 1.040)">0.86</text>
<text class="an w" transform="translate(361.74 938.19) scale(1.000 1.040)">0.84</text>
<text class="an w" transform="translate(419.88 938.19) scale(1.000 1.040)">-0.81</text>
<text class="an d" transform="translate(478.02 938.19) scale(1.000 1.040)">0.56</text>
<text class="an d" transform="translate(536.16 938.19) scale(1.000 1.040)">0.10</text>
<text class="an w" transform="translate(594.29 938.19) scale(1.000 1.040)">0.69</text>
<text class="an d" transform="translate(652.43 938.19) scale(1.000 1.040)">0.35</text>
<text class="an w" transform="translate(245.47 996.28) scale(1.000 1.040)">0.86</text>
<text class="an w" transform="translate(303.61 996.28) scale(1.000 1.040)">1.00</text>
<text class="an w" transform="translate(361.74 996.28) scale(1.000 1.040)">1.00</text>
<text class="an w" transform="translate(419.88 996.28) scale(1.000 1.040)">-0.64</text>
<text class="an w" transform="translate(478.02 996.28) scale(1.000 1.040)">0.58</text>
<text class="an d" transform="translate(536.16 996.28) scale(1.000 1.040)">-0.23</text>
<text class="an d" transform="translate(594.29 996.28) scale(1.000 1.040)">0.43</text>
<text class="an d" transform="translate(652.43 996.28) scale(1.000 1.040)">0.30</text>
<text class="an w" transform="translate(245.47 1054.37) scale(1.000 1.040)">0.84</text>
<text class="an w" transform="translate(303.61 1054.37) scale(1.000 1.040)">1.00</text>
<text class="an w" transform="translate(361.74 1054.37) scale(1.000 1.040)">1.00</text>
<text class="an w" transform="translate(419.88 1054.37) scale(1.000 1.040)">-0.59</text>
<text class="an d" transform="translate(478.02 1054.37) scale(1.000 1.040)">0.56</text>
<text class="an d" transform="translate(536.16 1054.37) scale(1.000 1.040)">-0.28</text>
<text class="an d" transform="translate(594.29 1054.37) scale(1.000 1.040)">0.37</text>
<text class="an d" transform="translate(652.43 1054.37) scale(1.000 1.040)">0.29</text>
<text class="an w" transform="translate(245.47 1112.46) scale(1.000 1.040)">-0.81</text>
<text class="an w" transform="translate(303.61 1112.46) scale(1.000 1.040)">-0.64</text>
<text class="an w" transform="translate(361.74 1112.46) scale(1.000 1.040)">-0.59</text>
<text class="an w" transform="translate(419.88 1112.46) scale(1.000 1.040)">1.00</text>
<text class="an w" transform="translate(478.02 1112.46) scale(1.000 1.040)">-0.39</text>
<text class="an w" transform="translate(536.16 1112.46) scale(1.000 1.040)">-0.48</text>
<text class="an w" transform="translate(594.29 1112.46) scale(1.000 1.040)">-0.78</text>
<text class="an d" transform="translate(652.43 1112.46) scale(1.000 1.040)">-0.02</text>
<text class="an d" transform="translate(245.47 1170.54) scale(1.000 1.040)">0.56</text>
<text class="an w" transform="translate(303.61 1170.54) scale(1.000 1.040)">0.58</text>
<text class="an d" transform="translate(361.74 1170.54) scale(1.000 1.040)">0.56</text>
<text class="an w" transform="translate(419.88 1170.54) scale(1.000 1.040)">-0.39</text>
<text class="an w" transform="translate(478.02 1170.54) scale(1.000 1.040)">1.00</text>
<text class="an d" transform="translate(536.16 1170.54) scale(1.000 1.040)">-0.19</text>
<text class="an w" transform="translate(594.29 1170.54) scale(1.000 1.040)">0.66</text>
<text class="an w" transform="translate(652.43 1170.54) scale(1.000 1.040)">0.70</text>
<text class="an d" transform="translate(245.47 1228.63) scale(1.000 1.040)">0.10</text>
<text class="an d" transform="translate(303.61 1228.63) scale(1.000 1.040)">-0.23</text>
<text class="an d" transform="translate(361.74 1228.63) scale(1.000 1.040)">-0.28</text>
<text class="an w" transform="translate(419.88 1228.63) scale(1.000 1.040)">-0.48</text>
<text class="an d" transform="translate(478.02 1228.63) scale(1.000 1.040)">-0.19</text>
<text class="an w" transform="translate(536.16 1228.63) scale(1.000 1.040)">1.00</text>
<text class="an d" transform="translate(594.29 1228.63) scale(1.000 1.040)">0.38</text>
<text class="an d" transform="translate(652.43 1228.63) scale(1.000 1.040)">-0.22</text>
<text class="an w" transform="translate(245.47 1286.72) scale(1.000 1.040)">0.69</text>
<text class="an d" transform="translate(303.61 1286.72) scale(1.000 1.040)">0.43</text>
<text class="an d" transform="translate(361.74 1286.72) scale(1.000 1.040)">0.37</text>
<text class="an w" transform="translate(419.88 1286.72) scale(1.000 1.040)">-0.78</text>
<text class="an w" transform="translate(478.02 1286.72) scale(1.000 1.040)">0.66</text>
<text class="an d" transform="translate(536.16 1286.72) scale(1.000 1.040)">0.38</text>
<text class="an w" transform="translate(594.29 1286.72) scale(1.000 1.040)">1.00</text>
<text class="an d" transform="translate(652.43 1286.72) scale(1.000 1.040)">0.47</text>
<text class="an d" transform="translate(245.47 1344.81) scale(1.000 1.040)">0.35</text>
<text class="an d" transform="translate(303.61 1344.81) scale(1.000 1.040)">0.30</text>
<text class="an d" transform="translate(361.74 1344.81) scale(1.000 1.040)">0.29</text>
<text class="an d" transform="translate(419.88 1344.81) scale(1.000 1.040)">-0.02</text>
<text class="an w" transform="translate(478.02 1344.81) scale(1.000 1.040)">0.70</text>
<text class="an d" transform="translate(536.16 1344.81) scale(1.000 1.040)">-0.22</text>
<text class="an d" transform="translate(594.29 1344.81) scale(1.000 1.040)">0.47</text>
<text class="an w" transform="translate(652.43 1344.81) scale(1.000 1.040)">1.00</text>
<text class="tk yt" x="199.50" y="936.64">Days of hospitalization</text>
<text class="tk yt" x="199.50" y="994.73">Therapy minutes</text>
<text class="tk yt" x="199.50" y="1052.82">Number of therapy sessions</text>
<text class="tk yt" x="199.50" y="1110.91">Age</text>
<text class="tk yt" x="199.50" y="1168.99">Score</text>
<text class="tk yt" x="199.50" y="1227.08">Difficulty</text>
<text class="tk yt" x="199.50" y="1285.17">Forearm weight support</text>
<text class="tk yt" x="199.50" y="1343.26">Arm weight support</text>
<text class="tk xt" transform="translate(242.77 1393.30) rotate(-45)">Days of hospitalization</text>
<text class="tk xt" transform="translate(300.91 1393.30) rotate(-45)">Therapy minutes</text>
<text class="tk xt" transform="translate(359.04 1393.30) rotate(-45)">Number of therapy sessions</text>
<text class="tk xt" transform="translate(417.18 1393.30) rotate(-45)">Age</text>
<text class="tk xt" transform="translate(475.32 1393.30) rotate(-45)">Score</text>
<text class="tk xt" transform="translate(533.46 1393.30) rotate(-45)">Difficulty</text>
<text class="tk xt" transform="translate(591.59 1393.30) rotate(-45)">Forearm weight support</text>
<text class="tk xt" transform="translate(649.73 1393.30) rotate(-45)">Arm weight support</text>
</g>
<g>
<text class="ti" x="1299.65" y="885.80">Ischemic Stroke</text>
<g stroke="#fff" stroke-width="1.70">
<rect x="1067.40" y="903.00" width="58.06" height="58.09" fill="#990c2a"/>
<rect x="1125.46" y="903.00" width="58.06" height="58.09" fill="#d0d8eb"/>
<rect x="1183.53" y="903.00" width="58.06" height="58.09" fill="#c9d5f1"/>
<rect x="1241.59" y="903.00" width="58.06" height="58.09" fill="#90a8f9"/>
<rect x="1299.65" y="903.00" width="58.06" height="58.09" fill="#748aec"/>
<rect x="1357.71" y="903.00" width="58.06" height="58.09" fill="#df9a7d"/>
<rect x="1415.78" y="903.00" width="58.06" height="58.09" fill="#6b7fe5"/>
<rect x="1473.84" y="903.00" width="58.06" height="58.09" fill="#424dbc"/>
<rect x="1067.40" y="961.09" width="58.06" height="58.09" fill="#d0d8eb"/>
<rect x="1125.46" y="961.09" width="58.06" height="58.09" fill="#990c2a"/>
<rect x="1183.53" y="961.09" width="58.06" height="58.09" fill="#9d192d"/>
<rect x="1241.59" y="961.09" width="58.06" height="58.09" fill="#d9dbe0"/>
<rect x="1299.65" y="961.09" width="58.06" height="58.09" fill="#849cf5"/>
<rect x="1357.71" y="961.09" width="58.06" height="58.09" fill="#a3b9fc"/>
<rect x="1415.78" y="961.09" width="58.06" height="58.09" fill="#dbdcdc"/>
<rect x="1473.84" y="961.09" width="58.06" height="58.09" fill="#99b1fb"/>
<rect x="1067.40" y="1019.17" width="58.06" height="58.09" fill="#c9d5f1"/>
<rect x="1125.46" y="1019.17" width="58.06" height="58.09" fill="#9d192d"/>
<rect x="1183.53" y="1019.17" width="58.06" height="58.09" fill="#990c2a"/>
<rect x="1241.59" y="1019.17" width="58.06" height="58.09" fill="#e3d4ca"/>
<rect x="1299.65" y="1019.17" width="58.06" height="58.09" fill="#88a0f7"/>
<rect x="1357.71" y="1019.17" width="58.06" height="58.09" fill="#97aefb"/>
<rect x="1415.78" y="1019.17" width="58.06" height="58.09" fill="#dddbda"/>
<rect x="1473.84" y="1019.17" width="58.06" height="58.09" fill="#a3b9fc"/>
<rect x="1067.40" y="1077.26" width="58.06" height="58.09" fill="#90a8f9"/>
<rect x="1125.46" y="1077.26" width="58.06" height="58.09" fill="#d9dbe0"/>
<rect x="1183.53" y="1077.26" width="58.06" height="58.09" fill="#e3d4ca"/>
<rect x="1241.59" y="1077.26" width="58.06" height="58.09" fill="#990c2a"/>
<rect x="1299.65" y="1077.26" width="58.06" height="58.09" fill="#cdd7ed"/>
<rect x="1357.71" y="1077.26" width="58.06" height="58.09" fill="#4a57c5"/>
<rect x="1415.78" y="1077.26" width="58.06" height="58.09" fill="#d0d8eb"/>
<rect x="1473.84" y="1077.26" width="58.06" height="58.09" fill="#dbdcdc"/>
<rect x="1067.40" y="1135.35" width="58.06" height="58.09" fill="#748aec"/>
<rect x="1125.46" y="1135.35" width="58.06" height="58.09" fill="#849cf5"/>
<rect x="1183.53" y="1135.35" width="58.06" height="58.09" fill="#88a0f7"/>
<rect x="1241.59" y="1135.35" width="58.06" height="58.09" fill="#cdd7ed"/>
<rect x="1299.65" y="1135.35" width="58.06" height="58.09" fill="#990c2a"/>
<rect x="1357.71" y="1135.35" width="58.06" height="58.09" fill="#6b7fe5"/>
<rect x="1415.78" y="1135.35" width="58.06" height="58.09" fill="#e7c7b3"/>
<rect x="1473.84" y="1135.35" width="58.06" height="58.09" fill="#e5d0c2"/>
<rect x="1067.40" y="1193.44" width="58.06" height="58.09" fill="#df9a7d"/>
<rect x="1125.46" y="1193.44" width="58.06" height="58.09" fill="#a3b9fc"/>
<rect x="1183.53" y="1193.44" width="58.06" height="58.09" fill="#97aefb"/>
<rect x="1241.59" y="1193.44" width="58.06" height="58.09" fill="#4a57c5"/>
<rect x="1299.65" y="1193.44" width="58.06" height="58.09" fill="#6b7fe5"/>
<rect x="1357.71" y="1193.44" width="58.06" height="58.09" fill="#990c2a"/>
<rect x="1415.78" y="1193.44" width="58.06" height="58.09" fill="#424dbc"/>
<rect x="1473.84" y="1193.44" width="58.06" height="58.09" fill="#434fbd"/>
<rect x="1067.40" y="1251.53" width="58.06" height="58.09" fill="#6b7fe5"/>
<rect x="1125.46" y="1251.53" width="58.06" height="58.09" fill="#dbdcdc"/>
<rect x="1183.53" y="1251.53" width="58.06" height="58.09" fill="#dddbda"/>
<rect x="1241.59" y="1251.53" width="58.06" height="58.09" fill="#d0d8eb"/>
<rect x="1299.65" y="1251.53" width="58.06" height="58.09" fill="#e7c7b3"/>
<rect x="1357.71" y="1251.53" width="58.06" height="58.09" fill="#424dbc"/>
<rect x="1415.78" y="1251.53" width="58.06" height="58.09" fill="#990c2a"/>
<rect x="1473.84" y="1251.53" width="58.06" height="58.09" fill="#e2a285"/>
<rect x="1067.40" y="1309.61" width="58.06" height="58.09" fill="#424dbc"/>
<rect x="1125.46" y="1309.61" width="58.06" height="58.09" fill="#99b1fb"/>
<rect x="1183.53" y="1309.61" width="58.06" height="58.09" fill="#a3b9fc"/>
<rect x="1241.59" y="1309.61" width="58.06" height="58.09" fill="#dbdcdc"/>
<rect x="1299.65" y="1309.61" width="58.06" height="58.09" fill="#e5d0c2"/>
<rect x="1357.71" y="1309.61" width="58.06" height="58.09" fill="#434fbd"/>
<rect x="1415.78" y="1309.61" width="58.06" height="58.09" fill="#e2a285"/>
<rect x="1473.84" y="1309.61" width="58.06" height="58.09" fill="#990c2a"/>
</g>
<text class="an w" transform="translate(1096.43 938.19) scale(1.000 1.040)">1.00</text>
<text class="an d" transform="translate(1154.49 938.19) scale(1.000 1.040)">0.19</text>
<text class="an d" transform="translate(1212.56 938.19) scale(1.000 1.040)">0.15</text>
<text class="an w" transform="translate(1270.62 938.19) scale(1.000 1.040)">-0.12</text>
<text class="an w" transform="translate(1328.68 938.19) scale(1.000 1.040)">-0.24</text>
<text class="an d" transform="translate(1386.74 938.19) scale(1.000 1.040)">0.63</text>
<text class="an w" transform="translate(1444.81 938.19) scale(1.000 1.040)">-0.28</text>
<text class="an w" transform="translate(1502.87 938.19) scale(1.000 1.040)">-0.46</text>
<text class="an d" transform="translate(1096.43 996.28) scale(1.000 1.040)">0.19</text>
<text class="an w" transform="translate(1154.49 996.28) scale(1.000 1.040)">1.00</text>
<text class="an w" transform="translate(1212.56 996.28) scale(1.000 1.040)">0.98</text>
<text class="an d" transform="translate(1270.62 996.28) scale(1.000 1.040)">0.25</text>
<text class="an w" transform="translate(1328.68 996.28) scale(1.000 1.040)">-0.17</text>
<text class="an d" transform="translate(1386.74 996.28) scale(1.000 1.040)">-0.04</text>
<text class="an d" transform="translate(1444.81 996.28) scale(1.000 1.040)">0.27</text>
<text class="an d" transform="translate(1502.87 996.28) scale(1.000 1.040)">-0.08</text>
<text class="an d" transform="translate(1096.43 1054.37) scale(1.000 1.040)">0.15</text>
<text class="an w" transform="translate(1154.49 1054.37) scale(1.000 1.040)">0.98</text>
<text class="an w" transform="translate(1212.56 1054.37) scale(1.000 1.040)">1.00</text>
<text class="an d" transform="translate(1270.62 1054.37) scale(1.000 1.040)">0.34</text>
<text class="an w" transform="translate(1328.68 1054.37) scale(1.000 1.040)">-0.15</text>
<text class="an d" transform="translate(1386.74 1054.37) scale(1.000 1.040)">-0.09</text>
<text class="an d" transform="translate(1444.81 1054.37) scale(1.000 1.040)">0.28</text>
<text class="an d" transform="translate(1502.87 1054.37) scale(1.000 1.040)">-0.04</text>
<text class="an w" transform="translate(1096.43 1112.46) scale(1.000 1.040)">-0.12</text>
<text class="an d" transform="translate(1154.49 1112.46) scale(1.000 1.040)">0.25</text>
<text class="an d" transform="translate(1212.56 1112.46) scale(1.000 1.040)">0.34</text>
<text class="an w" transform="translate(1270.62 1112.46) scale(1.000 1.040)">1.00</text>
<text class="an d" transform="translate(1328.68 1112.46) scale(1.000 1.040)">0.17</text>
<text class="an w" transform="translate(1386.74 1112.46) scale(1.000 1.040)">-0.42</text>
<text class="an d" transform="translate(1444.81 1112.46) scale(1.000 1.040)">0.19</text>
<text class="an d" transform="translate(1502.87 1112.46) scale(1.000 1.040)">0.27</text>
<text class="an w" transform="translate(1096.43 1170.54) scale(1.000 1.040)">-0.24</text>
<text class="an w" transform="translate(1154.49 1170.54) scale(1.000 1.040)">-0.17</text>
<text class="an w" transform="translate(1212.56 1170.54) scale(1.000 1.040)">-0.15</text>
<text class="an d" transform="translate(1270.62 1170.54) scale(1.000 1.040)">0.17</text>
<text class="an w" transform="translate(1328.68 1170.54) scale(1.000 1.040)">1.00</text>
<text class="an w" transform="translate(1386.74 1170.54) scale(1.000 1.040)">-0.28</text>
<text class="an d" transform="translate(1444.81 1170.54) scale(1.000 1.040)">0.43</text>
<text class="an d" transform="translate(1502.87 1170.54) scale(1.000 1.040)">0.37</text>
<text class="an d" transform="translate(1096.43 1228.63) scale(1.000 1.040)">0.63</text>
<text class="an d" transform="translate(1154.49 1228.63) scale(1.000 1.040)">-0.04</text>
<text class="an d" transform="translate(1212.56 1228.63) scale(1.000 1.040)">-0.09</text>
<text class="an w" transform="translate(1270.62 1228.63) scale(1.000 1.040)">-0.42</text>
<text class="an w" transform="translate(1328.68 1228.63) scale(1.000 1.040)">-0.28</text>
<text class="an w" transform="translate(1386.74 1228.63) scale(1.000 1.040)">1.00</text>
<text class="an w" transform="translate(1444.81 1228.63) scale(1.000 1.040)">-0.46</text>
<text class="an w" transform="translate(1502.87 1228.63) scale(1.000 1.040)">-0.45</text>
<text class="an w" transform="translate(1096.43 1286.72) scale(1.000 1.040)">-0.28</text>
<text class="an d" transform="translate(1154.49 1286.72) scale(1.000 1.040)">0.27</text>
<text class="an d" transform="translate(1212.56 1286.72) scale(1.000 1.040)">0.28</text>
<text class="an d" transform="translate(1270.62 1286.72) scale(1.000 1.040)">0.19</text>
<text class="an d" transform="translate(1328.68 1286.72) scale(1.000 1.040)">0.43</text>
<text class="an w" transform="translate(1386.74 1286.72) scale(1.000 1.040)">-0.46</text>
<text class="an w" transform="translate(1444.81 1286.72) scale(1.000 1.040)">1.00</text>
<text class="an d" transform="translate(1502.87 1286.72) scale(1.000 1.040)">0.60</text>
<text class="an w" transform="translate(1096.43 1344.81) scale(1.000 1.040)">-0.46</text>
<text class="an d" transform="translate(1154.49 1344.81) scale(1.000 1.040)">-0.08</text>
<text class="an d" transform="translate(1212.56 1344.81) scale(1.000 1.040)">-0.04</text>
<text class="an d" transform="translate(1270.62 1344.81) scale(1.000 1.040)">0.27</text>
<text class="an d" transform="translate(1328.68 1344.81) scale(1.000 1.040)">0.37</text>
<text class="an w" transform="translate(1386.74 1344.81) scale(1.000 1.040)">-0.45</text>
<text class="an d" transform="translate(1444.81 1344.81) scale(1.000 1.040)">0.60</text>
<text class="an w" transform="translate(1502.87 1344.81) scale(1.000 1.040)">1.00</text>
<text class="tk yt" x="1050.50" y="936.64">Days of hospitalization</text>
<text class="tk yt" x="1050.50" y="994.73">Therapy minutes</text>
<text class="tk yt" x="1050.50" y="1052.82">Number of therapy sessions</text>
<text class="tk yt" x="1050.50" y="1110.91">Age</text>
<text class="tk yt" x="1050.50" y="1168.99">Score</text>
<text class="tk yt" x="1050.50" y="1227.08">Difficulty</text>
<text class="tk yt" x="1050.50" y="1285.17">Forearm weight support</text>
<text class="tk yt" x="1050.50" y="1343.26">Arm weight support</text>
<text class="tk xt" transform="translate(1093.73 1393.30) rotate(-45)">Days of hospitalization</text>
<text class="tk xt" transform="translate(1151.79 1393.30) rotate(-45)">Therapy minutes</text>
<text class="tk xt" transform="translate(1209.86 1393.30) rotate(-45)">Number of therapy sessions</text>
<text class="tk xt" transform="translate(1267.92 1393.30) rotate(-45)">Age</text>
<text class="tk xt" transform="translate(1325.98 1393.30) rotate(-45)">Score</text>
<text class="tk xt" transform="translate(1384.04 1393.30) rotate(-45)">Difficulty</text>
<text class="tk xt" transform="translate(1442.11 1393.30) rotate(-45)">Forearm weight support</text>
<text class="tk xt" transform="translate(1500.17 1393.30) rotate(-45)">Arm weight support</text>
</g>
<defs><linearGradient id="cbg" x1="0" y1="1" x2="0" y2="0">
<stop offset="0.0000" stop-color="#424dbc"/>
<stop offset="0.0156" stop-color="#4754c2"/>
<stop offset="0.0312" stop-color="#4c5ac8"/>
<stop offset="0.0469" stop-color="#5161ce"/>
<stop offset="0.0625" stop-color="#5768d3"/>
<stop offset="0.0781" stop-color="#5c6ed8"/>
<stop offset="0.0938" stop-color="#6174dd"/>
<stop offset="0.1094" stop-color="#677be2"/>
<stop offset="0.1250" stop-color="#6c81e6"/>
<stop offset="0.1406" stop-color="#7187ea"/>
<stop offset="0.1562" stop-color="#778dee"/>
<stop offset="0.1719" stop-color="#7c93f1"/>
<stop offset="0.1875" stop-color="#8199f4"/>
<stop offset="0.2031" stop-color="#879ff6"/>
<stop offset="0.2188" stop-color="#8ca4f8"/>
<stop offset="0.2344" stop-color="#92a9fa"/>
<stop offset="0.2500" stop-color="#97aefb"/>
<stop offset="0.2656" stop-color="#9cb3fc"/>
<stop offset="0.2812" stop-color="#a1b8fc"/>
<stop offset="0.2969" stop-color="#a6bcfc"/>
<stop offset="0.3125" stop-color="#abc1fc"/>
<stop offset="0.3281" stop-color="#b0c4fb"/>
<stop offset="0.3438" stop-color="#b5c8fa"/>
<stop offset="0.3594" stop-color="#bacbf9"/>
<stop offset="0.3750" stop-color="#becff7"/>
<stop offset="0.3906" stop-color="#c2d1f5"/>
<stop offset="0.4062" stop-color="#c7d4f2"/>
<stop offset="0.4219" stop-color="#cbd6ef"/>
<stop offset="0.4375" stop-color="#cfd8ec"/>
<stop offset="0.4531" stop-color="#d2d9e8"/>
<stop offset="0.4688" stop-color="#d6dae4"/>
<stop offset="0.4844" stop-color="#d9dbe0"/>
<stop offset="0.5000" stop-color="#dcdbdb"/>
<stop offset="0.5156" stop-color="#ded9d5"/>
<stop offset="0.5312" stop-color="#e1d7d0"/>
<stop offset="0.5469" stop-color="#e3d4ca"/>
<stop offset="0.5625" stop-color="#e4d1c4"/>
<stop offset="0.5781" stop-color="#e5cebe"/>
<stop offset="0.5938" stop-color="#e7cab8"/>
<stop offset="0.6094" stop-color="#e7c6b2"/>
<stop offset="0.6250" stop-color="#e7c2ab"/>
<stop offset="0.6406" stop-color="#e7bea5"/>
<stop offset="0.6562" stop-color="#e7b99f"/>
<stop offset="0.6719" stop-color="#e6b499"/>
<stop offset="0.6875" stop-color="#e5af93"/>
<stop offset="0.7031" stop-color="#e4a98c"/>
<stop offset="0.7188" stop-color="#e2a386"/>
<stop offset="0.7344" stop-color="#e09d80"/>
<stop offset="0.7500" stop-color="#de977a"/>
<stop offset="0.7656" stop-color="#db9174"/>
<stop offset="0.7812" stop-color="#d98a6f"/>
<stop offset="0.7969" stop-color="#d58369"/>
<stop offset="0.8125" stop-color="#d27c63"/>
<stop offset="0.8281" stop-color="#ce755e"/>
<stop offset="0.8438" stop-color="#ca6e58"/>
<stop offset="0.8594" stop-color="#c66653"/>
<stop offset="0.8750" stop-color="#c25f4e"/>
<stop offset="0.8906" stop-color="#bd5748"/>
<stop offset="0.9062" stop-color="#b94f44"/>
<stop offset="0.9219" stop-color="#b3463f"/>
<stop offset="0.9375" stop-color="#ae3d3a"/>
<stop offset="0.9531" stop-color="#a93436"/>
<stop offset="0.9688" stop-color="#a32831"/>
<stop offset="0.9844" stop-color="#9d192d"/>
<stop offset="1.0000" stop-color="#990c2a"/>
</linearGradient></defs>
<rect x="1566.10" y="903.00" width="23.20" height="464.70" fill="url(#cbg)"/>
<line x1="1589.30" y1="903.00" x2="1600.10" y2="903.00" stroke="#1c1c1c" stroke-width="2.40"/>
<text class="cbt" transform="translate(1606.40 910.45) scale(0.9250 1)" font-size="20.80" fill="#1c1c1c">1.0</text>
<line x1="1589.30" y1="966.79" x2="1600.10" y2="966.79" stroke="#1c1c1c" stroke-width="2.40"/>
<text class="cbt" transform="translate(1606.40 974.24) scale(0.9250 1)" font-size="20.80" fill="#1c1c1c">0.8</text>
<line x1="1589.30" y1="1030.58" x2="1600.10" y2="1030.58" stroke="#1c1c1c" stroke-width="2.40"/>
<text class="cbt" transform="translate(1606.40 1038.03) scale(0.9250 1)" font-size="20.80" fill="#1c1c1c">0.6</text>
<line x1="1589.30" y1="1094.37" x2="1600.10" y2="1094.37" stroke="#1c1c1c" stroke-width="2.40"/>
<text class="cbt" transform="translate(1606.40 1101.82) scale(0.9250 1)" font-size="20.80" fill="#1c1c1c">0.4</text>
<line x1="1589.30" y1="1158.15" x2="1600.10" y2="1158.15" stroke="#1c1c1c" stroke-width="2.40"/>
<text class="cbt" transform="translate(1606.40 1165.60) scale(0.9250 1)" font-size="20.80" fill="#1c1c1c">0.2</text>
<line x1="1589.30" y1="1221.94" x2="1600.10" y2="1221.94" stroke="#1c1c1c" stroke-width="2.40"/>
<text class="cbt" transform="translate(1606.40 1229.39) scale(0.9250 1)" font-size="20.80" fill="#1c1c1c">0.0</text>
<line x1="1589.30" y1="1285.73" x2="1600.10" y2="1285.73" stroke="#1c1c1c" stroke-width="2.40"/>
<text class="cbt" transform="translate(1606.40 1293.18) scale(0.9250 1)" font-size="20.80" fill="#1c1c1c">−0.2</text>
<line x1="1589.30" y1="1349.52" x2="1600.10" y2="1349.52" stroke="#1c1c1c" stroke-width="2.40"/>
<text class="cbt" transform="translate(1606.40 1356.97) scale(0.9250 1)" font-size="20.80" fill="#1c1c1c">−0.4</text>
</svg></body></html>
